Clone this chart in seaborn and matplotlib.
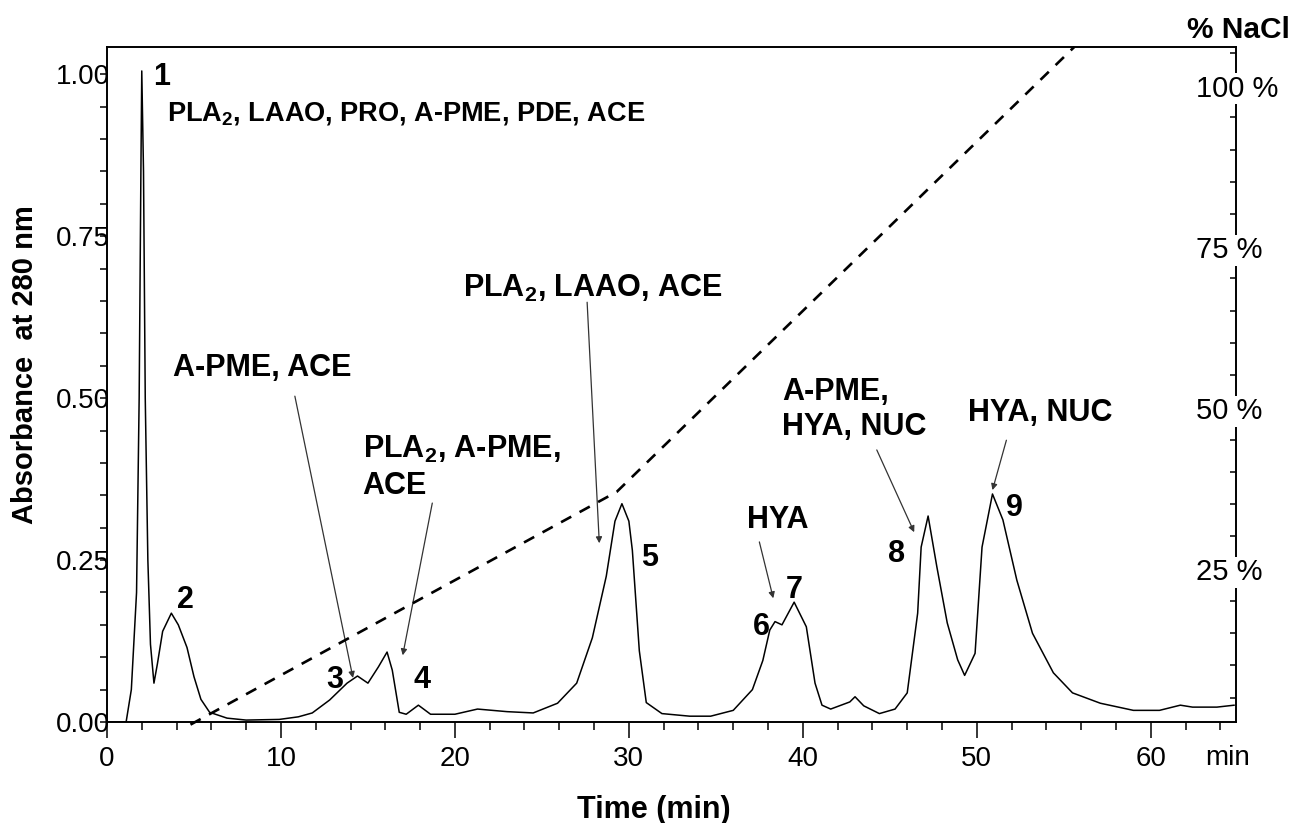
import numpy as np
import pandas as pd
import seaborn as sns
import matplotlib.pyplot as plt
from matplotlib.ticker import MultipleLocator
from matplotlib.transforms import blended_transform_factory

# chromatogram trace
time_min = [0, 1.1, 1.4, 1.7, 1.85, 1.95, 2.0, 2.1, 2.2, 2.35, 2.5, 2.7, 2.9, 3.2, 3.7,
            4.1, 4.6, 5.0, 5.4, 5.9, 6.9, 8.0, 9.9, 11.0, 11.8, 12.8, 13.8, 14.4, 15.0,
            15.6, 16.1, 16.4, 16.8, 17.2, 17.9, 18.6, 20.0, 21.3, 23.0, 24.5, 25.9, 27.0,
            27.9, 28.7, 29.2, 29.6, 30.0, 30.2, 30.6, 31.0, 31.9, 33.5, 34.7, 36.0, 37.1,
            37.7, 38.1, 38.4, 38.8, 39.5, 40.2, 40.7, 41.1, 41.6, 42.7, 43.0, 43.5, 44.4,
            45.3, 46.0, 46.6, 46.8, 47.2, 47.7, 48.3, 48.9, 49.3, 49.9, 50.3, 50.9, 51.5,
            52.3, 53.2, 54.4, 55.5, 57.1, 59.0, 60.5, 61.7, 62.4, 63.8, 64.8]
absorbance = [0.0, 0.0, 0.05, 0.2, 0.5, 0.85, 1.005, 0.85, 0.5, 0.25, 0.12, 0.06, 0.09,
              0.14, 0.168, 0.15, 0.115, 0.07, 0.035, 0.015, 0.006, 0.003, 0.004, 0.008,
              0.014, 0.034, 0.06, 0.071, 0.06, 0.085, 0.108, 0.08, 0.015, 0.012, 0.026,
              0.012, 0.012, 0.02, 0.016, 0.014, 0.029, 0.06, 0.13, 0.225, 0.31, 0.337,
              0.31, 0.265, 0.11, 0.03, 0.013, 0.009, 0.009, 0.018, 0.05, 0.095, 0.142,
              0.155, 0.15, 0.185, 0.147, 0.06, 0.026, 0.02, 0.031, 0.039, 0.025, 0.013,
              0.02, 0.045, 0.168, 0.27, 0.318, 0.24, 0.153, 0.096, 0.072, 0.106, 0.27,
              0.352, 0.312, 0.219, 0.137, 0.076, 0.045, 0.029, 0.018, 0.018, 0.026,
              0.023, 0.023, 0.026]

# NaCl gradient (dashed)
grad_time = [4.8, 29.3, 55.6]
grad_nacl = [0.8, 36.9, 105.9]

peak_labels = ["1", "2", "3", "4", "5", "6", "7", "8", "9"]
peak_x = [2.65, 4.0, 12.6, 17.6, 30.7, 37.1, 39.0, 44.9, 51.7]
peak_y = [0.995, 0.188, 0.065, 0.065, 0.253, 0.147, 0.204, 0.26, 0.33]

enzyme_texts = ["PLA$_\\mathbf{2}$, LAAO, PRO, A-PME, PDE, ACE", "A-PME, ACE",
                "PLA$_\\mathbf{2}$, A-PME,\nACE", "PLA$_\\mathbf{2}$, LAAO, ACE",
                "HYA", "A-PME,\nHYA, NUC", "HYA, NUC"]
enzyme_x = [3.45, 3.8, 14.7, 20.46, 36.8, 38.8, 49.5]
enzyme_y = [0.94, 0.546, 0.393, 0.67, 0.312, 0.482, 0.477]
enzyme_size = [19.5, 22, 22, 22, 22, 22, 22]

arrow_from = [(10.8, 0.503), (18.7, 0.338), (27.6, 0.648), (37.5, 0.278), (44.25, 0.42), (51.7, 0.435)]
arrow_to = [(14.14, 0.068), (17.0, 0.103), (28.3, 0.276), (38.3, 0.191), (46.4, 0.293), (50.9, 0.358)]

nacl_ticks = [25, 50, 75, 100]

sns.set_style("ticks")
plt.rcParams['font.family'] = ['Liberation Sans', 'DejaVu Sans']
plt.rcParams['mathtext.fontset'] = 'custom'
plt.rcParams['mathtext.rm'] = 'Liberation Sans'
plt.rcParams['mathtext.bf'] = 'Liberation Sans:bold'
for k in ['text.color', 'axes.labelcolor', 'xtick.color', 'ytick.color', 'axes.edgecolor']:
    plt.rcParams[k] = 'black'

fig = plt.figure(figsize=(13.03, 8.23), dpi=100)
ax = fig.add_axes([0.0821, 0.1227, 0.8665, 0.8202])
ax2 = ax.twinx()

trace = pd.DataFrame({"Time": time_min, "A280": absorbance})
sns.lineplot(data=trace, x="Time", y="A280", ax=ax, color="black", lw=1.1, estimator=None)

grad = pd.DataFrame({"Time": grad_time, "NaCl": grad_nacl})
sns.lineplot(data=grad, x="Time", y="NaCl", ax=ax2, color="black", lw=1.9,
             linestyle=(0, (4.4, 3.6)), estimator=None, clip_on=False)

ax.set_xlim(0, 64.9)
ax.set_ylim(0, 1.042)
ax2.set_ylim(1.2, 105.9)

for side in ["top", "right", "left", "bottom"]:
    ax.spines[side].set_visible(True)
    ax.spines[side].set_linewidth(1.2)
    ax2.spines[side].set_linewidth(1.2)

ax.xaxis.set_minor_locator(MultipleLocator(2))
ax.yaxis.set_minor_locator(MultipleLocator(0.05))
ax.set_yticks([0, 0.25, 0.5, 0.75, 1.0])
ax.set_yticklabels(["0.00", "0.25", "0.50", "0.75", "1.00"])
ax.set_xticks([0, 10, 20, 30, 40, 50, 60])
ax.tick_params(axis="x", which="major", direction="out", length=11.5, width=1.1, pad=6, labelsize=20)
ax.tick_params(axis="x", which="minor", direction="out", length=6, width=1.1)
ax.tick_params(axis="y", which="both", direction="out", length=5, width=1.1, pad=-7, labelsize=20)

ax2.yaxis.set_major_locator(MultipleLocator(25))
ax2.yaxis.set_minor_locator(MultipleLocator(5))
ax2.tick_params(axis="y", which="both", direction="in", length=4, width=1.1, labelright=False)
ax2.set_ylabel("")
ax2.grid(False)

trans = blended_transform_factory(ax2.transAxes, ax2.transData)
for v in nacl_ticks:
    ax2.text(0.9646, v - 0.6, f"{v} %", transform=trans, ha="left", va="center", fontsize=21,
             bbox=dict(facecolor="white", edgecolor="none", pad=1))
ax2.text(0.957, 1.025, "% NaCl", transform=ax2.transAxes, ha="left", va="center",
         fontsize=21.5, fontweight="bold")

ax.set_xlabel("Time (min)", fontsize=22, fontweight="bold")
ax.xaxis.set_label_coords(0.484, -0.108)
ax.set_ylabel("Absorbance  at 280 nm", fontsize=21, fontweight="bold")
ax.yaxis.set_label_coords(-0.06, 0.53)
ax.text(64.4, -0.056, "min", ha="center", va="center", fontsize=20, clip_on=False)

for lab, px, py in zip(peak_labels, peak_x, peak_y):
    ax.text(px, py, lab, ha="left", va="center", fontsize=22, fontweight="bold")

for txt, tx, ty, fs in zip(enzyme_texts, enzyme_x, enzyme_y, enzyme_size):
    ax.text(tx, ty, txt, ha="left", va="center", fontsize=fs, fontweight="bold", linespacing=1.22)

for a, b in zip(arrow_from, arrow_to):
    ax.annotate("", xy=b, xytext=a,
                arrowprops=dict(arrowstyle="-|>", color="#333333", lw=0.9,
                                mutation_scale=9, shrinkA=0, shrinkB=0))

fig.savefig("out.png", dpi=100)
